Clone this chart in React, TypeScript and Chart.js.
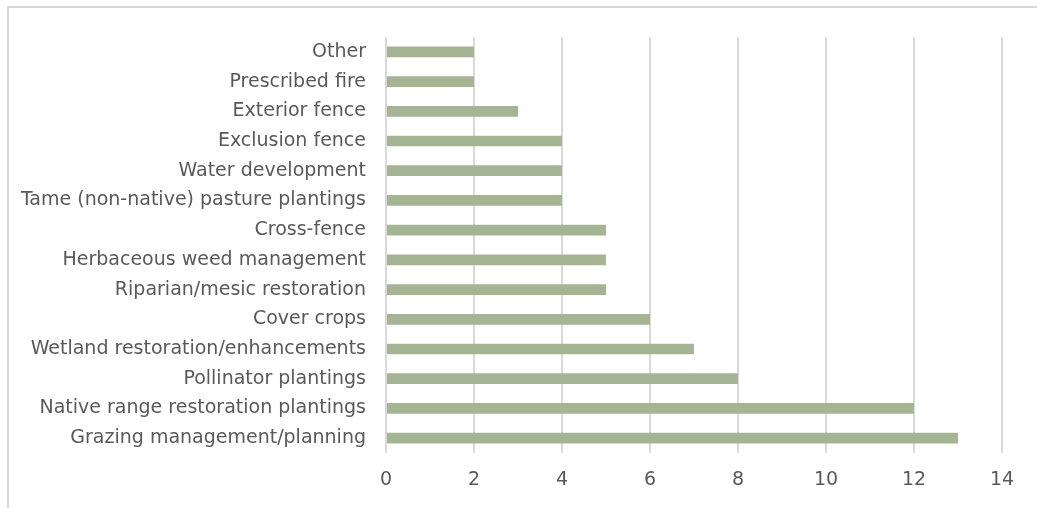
import React, { useEffect, useRef } from "react";
import { Chart, registerables } from "chart.js";

Chart.register(...registerables);

const categories = [
  "Other",
  "Prescribed fire",
  "Exterior fence",
  "Exclusion fence",
  "Water development",
  "Tame (non-native) pasture plantings",
  "Cross-fence",
  "Herbaceous weed management",
  "Riparian/mesic restoration",
  "Cover crops",
  "Wetland restoration/enhancements",
  "Pollinator plantings",
  "Native range restoration plantings",
  "Grazing management/planning",
];

const counts = [2, 2, 3, 4, 4, 4, 5, 5, 5, 6, 7, 8, 12, 13];

const xMin = 0;
const xMax = 14;
const xStep = 2;

export default function App() {
  const canvasRef = useRef<HTMLCanvasElement | null>(null);

  useEffect(() => {
    document.body.style.margin = "0";
    const canvas = canvasRef.current;
    if (!canvas) return;
    const chart = new Chart(canvas, {
      type: "bar",
      data: {
        labels: categories,
        datasets: [
          {
            data: counts,
            backgroundColor: "#A5B593",
            borderWidth: 0,
            barPercentage: 0.36,
            categoryPercentage: 1,
          },
        ],
      },
      options: {
        indexAxis: "y",
        responsive: false,
        animation: false,
        maintainAspectRatio: false,
        layout: { padding: { top: 37, right: 35, bottom: 0, left: 0 } },
        plugins: {
          legend: { display: false },
          tooltip: { enabled: false },
        },
        scales: {
          x: {
            min: xMin,
            max: xMax,
            ticks: {
              stepSize: xStep,
              color: "#595959",
              font: { family: "DejaVu Sans", size: 19 },
              padding: 16,
            },
            grid: {
              color: "#D9D9D9",
              lineWidth: 2,
              drawTicks: false,
            },
            border: { display: false },
            afterFit: (s: any) => {
              s.height = 55;
            },
          },
          y: {
            ticks: {
              color: "#595959",
              font: { family: "DejaVu Sans", size: 19 },
              padding: 20,
              autoSkip: false,
            },
            grid: { display: false, drawTicks: false },
            border: { display: false },
            afterFit: (s: any) => {
              s.width = 386;
            },
          },
        },
      },
    });
    return () => chart.destroy();
  }, []);

  return (
    <div style={{ position: "fixed", left: 0, top: 0, width: 1037, height: 508, background: "#fff", overflow: "hidden" }}>
      <div
        style={{
          position: "absolute",
          left: 7,
          top: 6,
          width: 1100,
          height: 600,
          borderTop: "2px solid #D9D9D9",
          borderLeft: "2px solid #D9D9D9",
        }}
      />
      <canvas ref={canvasRef} width={1037} height={508} style={{ position: "absolute", left: 0, top: 0 }} />
    </div>
  );
}
